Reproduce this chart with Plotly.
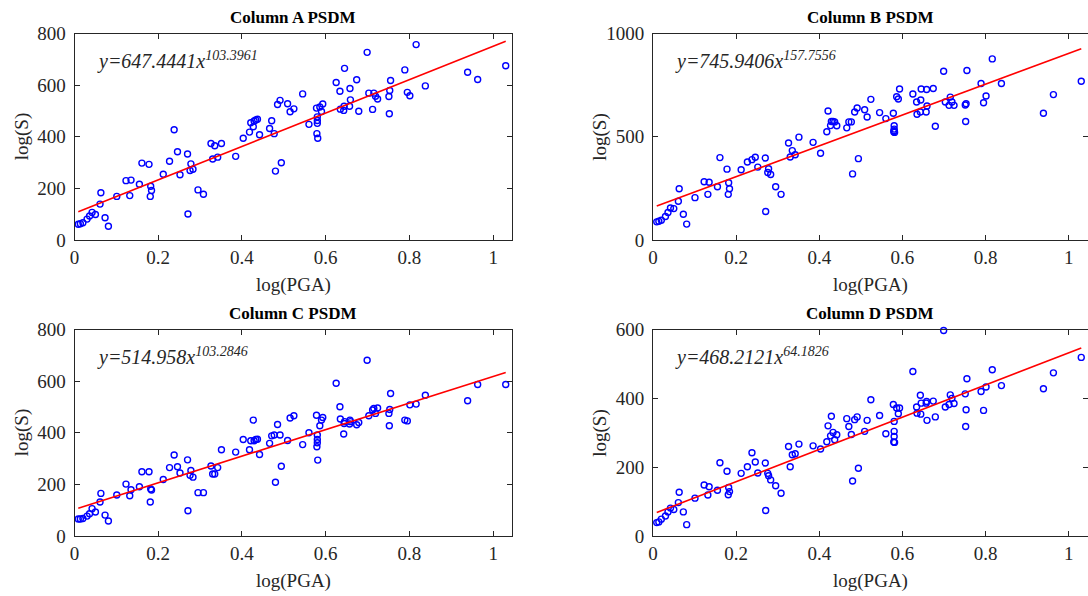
import plotly.graph_objects as go

W, H = 1088, 596

# ---------------- data ----------------
pga = [0.009, 0.014, 0.020, 0.030, 0.036, 0.042, 0.050, 0.061, 0.063, 0.073,
       0.081, 0.101, 0.123, 0.132, 0.135, 0.155, 0.161, 0.178, 0.181, 0.182,
       0.184, 0.212, 0.227, 0.238, 0.246, 0.252, 0.270, 0.271, 0.276, 0.278,
       0.283, 0.295, 0.308, 0.326, 0.330, 0.335, 0.342, 0.351, 0.385, 0.403,
       0.418, 0.421, 0.427, 0.429, 0.433, 0.437, 0.442, 0.466, 0.471, 0.477,
       0.480, 0.485, 0.491, 0.494, 0.509, 0.515,
       0.524, 0.545, 0.560, 0.578, 0.580, 0.580, 0.580, 0.579, 0.581, 0.586,
       0.590, 0.593, 0.625, 0.634, 0.635, 0.643, 0.644, 0.645, 0.657, 0.658,
       0.659, 0.674, 0.679, 0.699, 0.703, 0.712, 0.715, 0.719, 0.724, 0.751,
       0.752, 0.753, 0.755, 0.789, 0.795, 0.801, 0.816, 0.838, 0.939, 0.963,
       1.030]

s_col_a = [61, 63, 67, 81, 93, 107, 99, 139, 183, 86,
           53, 169, 230, 172, 232, 216, 298, 293, 169, 208,
           192, 255, 305, 427, 342, 253, 333, 101, 269, 295,
           274, 194, 177, 374, 314, 365, 321, 374, 324, 394,
           418, 454, 439, 461, 465, 468, 408, 432, 462, 412,
           267, 525, 541, 299, 528, 497,
           508, 566, 448, 511, 477, 463, 452, 412, 394, 515,
           498, 527, 610, 576, 507, 502, 518, 665, 518, 587,
           543, 621, 499, 727, 569, 506, 569, 557, 546, 556,
           489, 579, 618, 659, 572, 559, 757, 597, 650, 622,
           675]

s_col_b = [88, 91, 96, 114, 133, 155, 152, 188, 248, 125,
           77, 205, 282, 221, 280, 258, 399, 343, 221, 277,
           248, 340, 378, 389, 401, 353, 397, 138, 327, 345,
           317, 258, 221, 470, 402, 433, 413, 498, 473, 420,
           524, 625, 554, 574, 574, 572, 553, 543, 572, 572,
           320, 620, 639, 394, 631, 596,
           681, 617, 588, 614, 553, 537, 529, 524, 521, 694,
           683, 731, 707, 668, 609, 620, 678, 731, 620, 729,
           649, 734, 551, 817, 668, 652, 692, 668, 652, 654,
           574, 660, 821, 758, 665, 697, 877, 758, 614, 704,
           769]

s_col_c = [66, 66, 68, 77, 86, 106, 93, 132, 165, 81,
           58, 159, 201, 156, 179, 191, 249, 249, 132, 182,
           178, 219, 265, 314, 268, 244, 295, 98, 235, 254,
           228, 168, 168, 271, 240, 240, 265, 334, 325, 374,
           334, 369, 449, 369, 374, 375, 316, 359, 388, 391,
           208, 432, 391, 270, 370, 457,
           466, 354, 400, 468, 391, 374, 361, 346, 294, 427,
           449, 459, 592, 501, 453, 395, 436, 443, 434, 449,
           443, 431, 440, 681, 466, 488, 494, 475, 496, 475,
           427, 490, 552, 449, 446, 508, 511, 545, 524, 587,
           587]

s_col_d = [39, 41, 49, 58, 70, 81, 77, 97, 127, 70,
           33, 110, 148, 119, 143, 133, 213, 188, 120, 141,
           129, 182, 201, 242, 215, 183, 212, 74, 182, 175,
           163, 146, 124, 260, 201, 236, 239, 267, 262, 253,
           274, 320, 291, 348, 301, 280, 294, 341, 318, 295,
           160, 338, 346, 197, 304, 336,
           396, 350, 297, 382, 333, 304, 289, 273, 272, 372,
           355, 372, 478, 375, 357, 409, 354, 386, 386, 391,
           336, 392, 346, 597, 375, 382, 410, 400, 385, 413,
           318, 367, 457, 420, 365, 433, 483, 437, 428, 474,
           519]

titles = ["Column A PSDM", "Column B PSDM", "Column C PSDM", "Column D PSDM"]
slopes = [647.4441, 745.9406, 514.958, 468.2121]
intercepts = ["103.3961", "157.7556", "103.2846", "64.1826"]
slope_txt = ["647.4441", "745.9406", "514.958", "468.2121"]
y_max = [800, 1000, 800, 600]
y_ticks = [[0, 200, 400, 600, 800], [0, 500, 1000], [0, 200, 400, 600, 800], [0, 200, 400, 600]]
x_ticks = [0, 0.2, 0.4, 0.6, 0.8, 1]
x_tick_text = ["0", "0.2", "0.4", "0.6", "0.8", "1"]
series = [s_col_a, s_col_b, s_col_c, s_col_d]

# ---------------- layout geometry (pixels) ----------------
boxes = [  # left, right, top, bottom
    (74.5, 512, 33.5, 240),
    (653, 1087.5, 33.5, 240),
    (74.5, 512, 329.5, 536),
    (653, 1087.5, 329.5, 536),
]

FONT = "Liberation Serif"
AX = "#262626"

def px(xp):
    return xp / W

def py(yp):
    return 1 - yp / H

fig = go.Figure()
layout = dict(
    width=W, height=H,
    margin=dict(l=0, r=0, t=0, b=0, pad=0, autoexpand=False),
    paper_bgcolor="white", plot_bgcolor="white", showlegend=False,
    font=dict(family=FONT, color=AX),
)
annotations = []

for i in range(4):
    k = "" if i == 0 else str(i + 1)
    xa, ya = "x" + k, "y" + k
    L, R, T, B = boxes[i]
    fig.add_trace(go.Scatter(
        x=pga, y=series[i], mode="markers", xaxis=xa, yaxis=ya,
        cliponaxis=False,
        marker=dict(symbol="circle-open", size=6, color="#0000FF",
                    line=dict(width=1.4, color="#0000FF")),
    ))
    a = slopes[i]
    b = float(intercepts[i])
    xs = [min(pga), max(pga)]
    fig.add_trace(go.Scatter(
        x=xs, y=[a * v + b for v in xs], mode="lines", xaxis=xa, yaxis=ya,
        line=dict(color="#FF0000", width=1.6),
    ))
    layout["xaxis" + k] = dict(
        domain=[px(L), px(R)], range=[0, 1.045], anchor=ya, automargin=False,
        showline=True, linecolor=AX, linewidth=1, mirror="ticks",
        ticks="inside", ticklen=5, tickcolor=AX, tickwidth=1,
        tickvals=x_ticks, ticktext=x_tick_text,
        tickfont=dict(family=FONT, size=19, color=AX),
        showgrid=False, zeroline=False,
    )
    layout["yaxis" + k] = dict(
        domain=[py(B), py(T)], range=[0, y_max[i]], anchor=xa, automargin=False,
        showline=True, linecolor=AX, linewidth=1, mirror="ticks",
        ticks="inside", ticklen=5, tickcolor=AX, tickwidth=1,
        tickvals=y_ticks[i], ticktext=[str(v) for v in y_ticks[i]],
        tickfont=dict(family=FONT, size=19, color=AX),
        ticklabelstandoff=4,
        showgrid=False, zeroline=False,
    )
    cx = (L + R) / 2
    annotations.append(dict(
        text="<b>%s</b>" % titles[i], x=px(cx), y=py(T - 16),
        xref="paper", yref="paper", xanchor="center", yanchor="middle",
        showarrow=False, font=dict(family=FONT, size=17, color="black"),
    ))
    annotations.append(dict(
        text="log(PGA)", x=px(cx), y=py(B + 45),
        xref="paper", yref="paper", xanchor="center", yanchor="middle",
        showarrow=False, font=dict(family=FONT, size=19, color=AX),
    ))
    annotations.append(dict(
        text="log(S)", x=px(L - 53), y=py((T + B) / 2), textangle=-90,
        xref="paper", yref="paper", xanchor="center", yanchor="middle",
        showarrow=False, font=dict(family=FONT, size=19, color=AX),
    ))
    annotations.append(dict(
        text="<i>y=%sx<sup>%s</sup></i>" % (slope_txt[i], intercepts[i]),
        x=px(L + 20), y=py(T + 27),
        xref="paper", yref="paper", xanchor="left", yanchor="middle",
        showarrow=False, font=dict(family=FONT, size=20, color=AX),
    ))

layout["annotations"] = annotations
fig.update_layout(**layout)
fig.write_html("out.html")
